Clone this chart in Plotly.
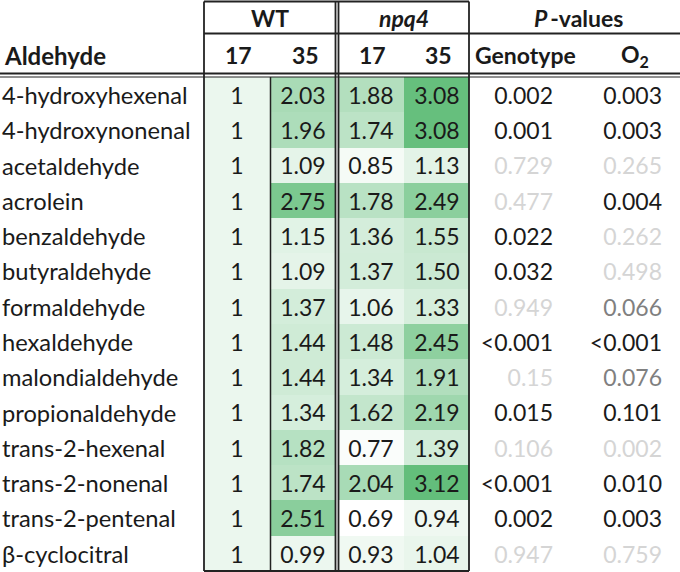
import plotly.graph_objects as go
import numpy as np

# ---------------- data ----------------
aldehydes = ["4-hydroxyhexenal", "4-hydroxynonenal", "acetaldehyde", "acrolein",
             "benzaldehyde", "butyraldehyde", "formaldehyde", "hexaldehyde",
             "malondialdehyde", "propionaldehyde", "trans-2-hexenal",
             "trans-2-nonenal", "trans-2-pentenal", "β-cyclocitral"]
wt_17 = [1, 1, 1, 1, 1, 1, 1, 1, 1, 1, 1, 1, 1, 1]
wt_35 = [2.03, 1.96, 1.09, 2.75, 1.15, 1.09, 1.37, 1.44, 1.44, 1.34, 1.82, 1.74, 2.51, 0.99]
npq4_17 = [1.88, 1.74, 0.85, 1.78, 1.36, 1.37, 1.06, 1.48, 1.34, 1.62, 0.77, 2.04, 0.69, 0.93]
npq4_35 = [3.08, 3.08, 1.13, 2.49, 1.55, 1.50, 1.33, 2.45, 1.91, 2.19, 1.39, 3.12, 0.94, 1.04]
p_genotype = ["0.002", "0.001", "0.729", "0.477", "0.022", "0.032", "0.949",
              "<0.001", "0.15", "0.015", "0.106", "<0.001", "0.002", "0.947"]
p_o2 = ["0.003", "0.003", "0.265", "0.004", "0.262", "0.498", "0.066",
        "<0.001", "0.076", "0.101", "0.002", "0.010", "0.003", "0.759"]
p_genotype_class = ["sig", "sig", "ns", "ns", "sig", "sig", "ns",
                    "sig", "ns", "sig", "ns", "sig", "sig", "ns"]
p_o2_class = ["sig", "sig", "ns", "sig", "ns", "ns", "trend",
              "sig", "trend", "sig", "ns", "sig", "sig", "ns"]
group_labels = ["WT", "<i>npq4</i>", "<i>P</i>\u2009-values"]
sub_labels = ["17", "35", "17", "35", "Genotype", "O<sub>2</sub>"]

# ---------------- layout constants ----------------
W, H = 680, 572
FONT = "Lato"
FS = 23
FS_NAME = 23.7
TXT = "#1a1a1a"
class_color = {"sig": "#1a1a1a", "ns": "#d5d5d5", "trend": "#808080"}

row_top, row_bot = 77.0, 571.0
n = len(aldehydes)
rh = (row_bot - row_top) / n
y_edges = [row_top + i * rh for i in range(n + 1)]
y_text = [row_top + (i + 0.5) * rh + 3.5 for i in range(n)]

x_edges = [204, 270.5, 336, 338, 404, 469]
col_centers = [237, 303, 371, 437]

z = np.array([wt_17, wt_35, [np.nan] * n, npq4_17, npq4_35], dtype=float).T
vals = np.array([wt_17, wt_35, npq4_17, npq4_35], dtype=float)

fig = go.Figure()
fig.add_trace(go.Heatmap(
    z=z, x=x_edges, y=y_edges,
    colorscale=[[0, "#FFFFFF"], [1, "#63BE7B"]],
    zmin=float(vals.min()), zmax=float(vals.max()),
    showscale=False, hoverinfo="skip"))

# cell values
for ci, (col, fmt) in enumerate(zip([wt_17, wt_35, npq4_17, npq4_35],
                                     ["{:g}", "{:.2f}", "{:.2f}", "{:.2f}"])):
    fig.add_trace(go.Scatter(
        x=[col_centers[ci]] * n, y=y_text, mode="text",
        text=[fmt.format(v) for v in col], textposition="middle center",
        textfont=dict(family=FONT, size=FS, color=TXT),
        hoverinfo="skip", showlegend=False, cliponaxis=False))

# aldehyde names
fig.add_trace(go.Scatter(
    x=[2] * n, y=y_text, mode="text", text=aldehydes,
    textposition="middle right",
    textfont=dict(family=FONT, size=FS_NAME, color=TXT),
    hoverinfo="skip", showlegend=False, cliponaxis=False))

# p-values
for xr, vals_p, cls in [(553, p_genotype, p_genotype_class), (662, p_o2, p_o2_class)]:
    fig.add_trace(go.Scatter(
        x=[xr] * n, y=y_text, mode="text", text=vals_p,
        textposition="middle left",
        textfont=dict(family=FONT, size=FS, color=[class_color[c] for c in cls]),
        hoverinfo="skip", showlegend=False, cliponaxis=False))

# headers
anns = []
for lbl, xc in zip(group_labels, [270, 403.5, 578]):
    anns.append(dict(x=xc, y=17.5, text=f"<b>{lbl}</b>", showarrow=False,
                     xanchor="center", yanchor="middle",
                     font=dict(family=FONT, size=FS, color=TXT)))
for lbl, xc in zip(sub_labels, [238, 305, 372, 438, 525, 635]):
    anns.append(dict(x=xc, y=55, text=f"<b>{lbl}</b>", showarrow=False,
                     xanchor="center", yanchor="middle",
                     font=dict(family=FONT, size=FS, color=TXT)))
anns.append(dict(x=2, y=55, text="<b>Aldehyde</b>", showarrow=False,
                 xanchor="left", yanchor="middle",
                 font=dict(family=FONT, size=24, color=TXT)))

LC = "#222222"
def hl(x0, x1, y, w=1.8):
    return dict(type="line", x0=x0, x1=x1, y0=y, y1=y, xref="x", yref="y",
                line=dict(color=LC, width=w))
def vl(x, y0, y1, w=1.8):
    return dict(type="line", x0=x, x1=x, y0=y0, y1=y1, xref="x", yref="y",
                line=dict(color=LC, width=w))

shapes = [
    hl(204, 469, 1.5), hl(204, 680, 33.5),
    hl(0, 680, 73.5, 2), hl(0, 680, 77, 1.2),
    hl(204, 469, 571),
    vl(204, 1.5, 571), vl(335.5, 1.5, 571), vl(338.5, 1.5, 571), vl(469, 1.5, 571),
    vl(270.5, 77, 571, 1.5),
]

fig.update_layout(
    width=W, height=H, margin=dict(l=0, r=0, t=0, b=0),
    paper_bgcolor="white", plot_bgcolor="white",
    xaxis=dict(range=[0, W], visible=False, fixedrange=True),
    yaxis=dict(range=[H, 0], visible=False, fixedrange=True),
    shapes=shapes, annotations=anns, showlegend=False)

fig.write_html("out.html", config={"displayModeBar": False},
               post_script="document.body.style.margin='0';document.body.style.overflow='hidden';")
